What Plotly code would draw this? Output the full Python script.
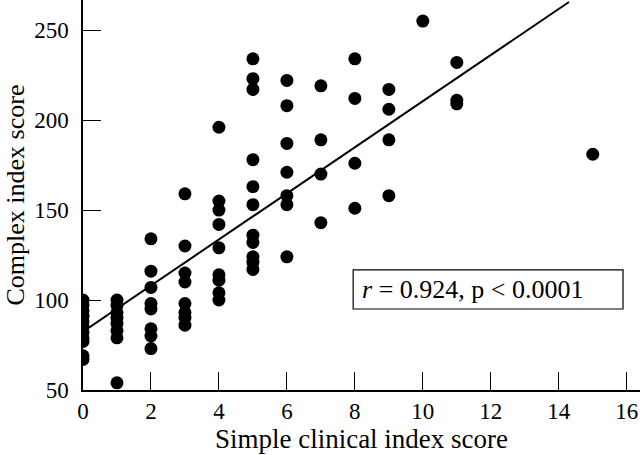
import plotly.graph_objects as go

# Complex index score values observed at each simple clinical index score
simple_scores = [0, 1, 2, 3, 4, 5, 6, 7, 8, 9, 10, 11, 15]
complex_at_0 = [100, 97, 94, 91, 88, 85, 82, 79, 77, 69, 67]
complex_at_1 = [100, 97, 93, 90, 87, 83, 79, 54]
complex_at_2 = [134, 116, 107, 98, 95, 84, 80, 73]
complex_at_3 = [159, 130, 115, 110, 98, 93, 90, 86]
complex_at_4 = [196, 155, 150, 142, 129, 114, 111, 104, 100]
complex_at_5 = [234, 223, 217, 178, 163, 153, 136, 132, 124, 121, 117]
complex_at_6 = [222, 208, 187, 171, 158, 153, 124]
complex_at_7 = [219, 189, 170, 143]
complex_at_8 = [234, 212, 176, 151]
complex_at_9 = [217, 206, 189, 158]
complex_at_10 = [255]
complex_at_11 = [232, 211, 209]
complex_at_15 = [181]

groups = [complex_at_0, complex_at_1, complex_at_2, complex_at_3, complex_at_4,
          complex_at_5, complex_at_6, complex_at_7, complex_at_8, complex_at_9,
          complex_at_10, complex_at_11, complex_at_15]

# regression line end points
fit_x = [0, 14.3]
fit_y = [82.4, 265.6]

x_ticks = [0, 2, 4, 6, 8, 10, 12, 14, 16]
y_ticks = [50, 100, 150, 200, 250]
stat_text = "<i>r</i> = 0.924, p < 0.0001"

xs, ys = [], []
for s, vals in zip(simple_scores, groups):
    for v in vals:
        xs.append(s)
        ys.append(v)

FONT = "Liberation Serif"

fig = go.Figure()
fig.add_trace(go.Scatter(x=xs, y=ys, mode="markers",
                         marker=dict(size=13, color="black"),
                         showlegend=False, hoverinfo="skip"))
fig.add_trace(go.Scatter(x=fit_x, y=fit_y, mode="lines",
                         line=dict(color="black", width=2),
                         showlegend=False, hoverinfo="skip"))

# statistics box
fig.add_shape(type="rect", xref="x", yref="y", x0=7.95, x1=15.89, y0=95, y1=116.7,
              line=dict(color="black", width=1.2), fillcolor="white", layer="above")
fig.add_annotation(x=8.16, y=105.8, xref="x", yref="y", text=stat_text,
                   showarrow=False, xanchor="left", yanchor="middle",
                   font=dict(family=FONT, size=26, color="black"))

axis_common = dict(showline=True, linecolor="black", linewidth=1.5,
                   ticks="inside", ticklen=18, tickwidth=1.2, tickcolor="black",
                   showgrid=False, zeroline=False,
                   tickfont=dict(family=FONT, size=23, color="black"))

fig.update_xaxes(range=[0, 16.39], tickvals=x_ticks,
                 title=dict(text="Simple clinical index score",
                            font=dict(family=FONT, size=27, color="black"),
                            standoff=4),
                 **axis_common)
fig.update_yaxes(range=[50, 266.7], tickvals=y_ticks, ticklabelstandoff=8,
                 title=dict(text="Complex index score",
                            font=dict(family=FONT, size=26, color="black"),
                            standoff=2),
                 **axis_common)

fig.update_layout(width=640, height=455,
                  margin=dict(l=83, r=0, t=0, b=65, autoexpand=False),
                  plot_bgcolor="white", paper_bgcolor="white")

fig.write_html("out.html", config={"displayModeBar": False},
               post_script="document.body.style.margin='0';document.body.style.padding='0';")
